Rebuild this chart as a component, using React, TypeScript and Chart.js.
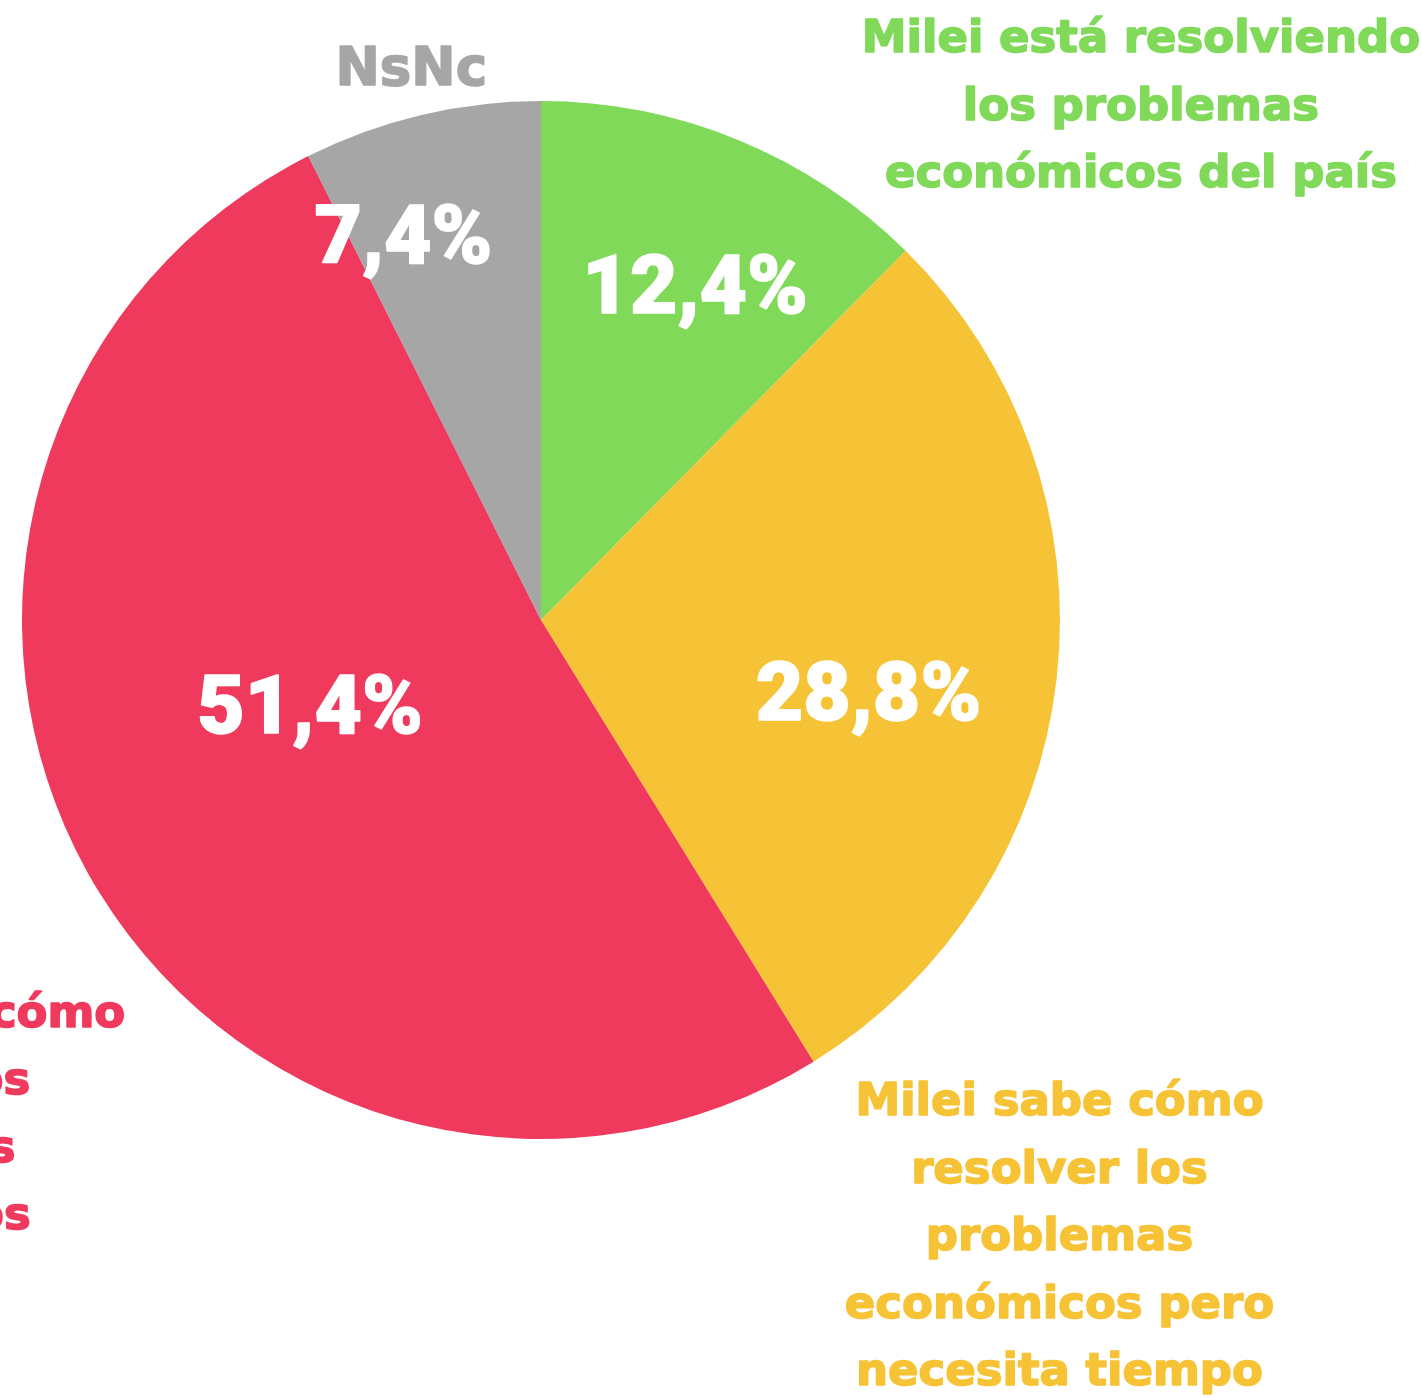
import React, { useEffect, useRef } from "react";
import { Chart, registerables } from "chart.js";

Chart.register(...registerables);

const categories = [
  "Milei está resolviendo los problemas económicos del país",
  "Milei sabe cómo resolver los problemas económicos pero necesita tiempo",
  "Milei no sabe cómo resolver los problemas económicos",
  "NsNc",
];
const values = [12.4, 28.8, 51.4, 7.4];
const labelLines = [
  ["Milei está resolviendo", "los problemas", "económicos del país"],
  ["Milei sabe cómo", "resolver los", "problemas", "económicos pero", "necesita tiempo"],
  ["Milei no sabe cómo", "resolver los", "problemas", "económicos"],
  ["NsNc"],
];
const colors = ["#80d959", "#f7c336", "#ef3a5e", "#a6a6a6"];

// label anchors relative to pie centre, in units of the radius
const valueAnchors = [
  [0.297, -0.592],
  [0.631, 0.193],
  [-0.445, 0.218],
  [-0.265, -0.688],
];
const nameAnchors = [
  [1.156, -1.094],
  [0.999, 0.954],
  [-1.27, 0.784],
  [-0.25, -1.031],
];

const labelPlugin = {
  id: "pieLabels",
  afterDatasetsDraw(chart: any) {
    const meta = chart.getDatasetMeta(0);
    if (!meta.data.length) return;
    const { x, y, outerRadius } = meta.data[0].getProps(["x", "y", "outerRadius"], true);
    const r = outerRadius;
    const ctx = chart.ctx;
    ctx.save();
    ctx.textAlign = "center";
    ctx.textBaseline = "alphabetic";
    ctx.lineJoin = "round";
    // value labels
    ctx.fillStyle = "#ffffff";
    ctx.strokeStyle = "#ffffff";
    ctx.lineWidth = 1.5;
    ctx.font = "900 82px Roboto";
    values.forEach((v, i) => {
      const [ax, ay] = valueAnchors[i];
      const txt = v.toFixed(1).replace(".", ",") + "%";
      ctx.fillText(txt, x + ax * r, y + ay * r);
      ctx.strokeText(txt, x + ax * r, y + ay * r);
    });
    // category labels
    labelLines.forEach((lines, i) => {
      const [ax, ay] = nameAnchors[i];
      ctx.fillStyle = colors[i];
      ctx.strokeStyle = colors[i];
      ctx.lineWidth = 1.6;
      const isShort = lines.length === 1;
      ctx.font = isShort ? "700 53px 'DejaVu Sans'" : "700 45px 'DejaVu Sans'";
      lines.forEach((line, j) => {
        const ly = y + ay * r + j * 67.5;
        ctx.fillText(line, x + ax * r, ly);
        ctx.strokeText(line, x + ax * r, ly);
      });
    });
    ctx.restore();
  },
};

export default function App() {
  const ref = useRef<HTMLCanvasElement>(null);
  useEffect(() => {
    if (!ref.current) return;
    const chart = new Chart(ref.current, {
      type: "pie",
      data: {
        labels: categories,
        datasets: [
          {
            data: values,
            backgroundColor: colors,
            borderWidth: 0,
            hoverOffset: 0,
          },
        ],
      },
      options: {
        responsive: false,
        animation: false,
        devicePixelRatio: 1,
        layout: { padding: { left: 22, top: 101, right: 362, bottom: 259 } },
        plugins: {
          legend: { display: false },
          tooltip: { enabled: false },
          title: { display: false },
        },
        events: [],
      },
      plugins: [labelPlugin],
    });
    return () => chart.destroy();
  }, []);
  return (
    <div style={{ position: "fixed", left: 0, top: 0, width: 1422, height: 1398, background: "#ffffff" }}>
      <canvas ref={ref} width={1422} height={1398} style={{ display: "block" }} />
    </div>
  );
}
